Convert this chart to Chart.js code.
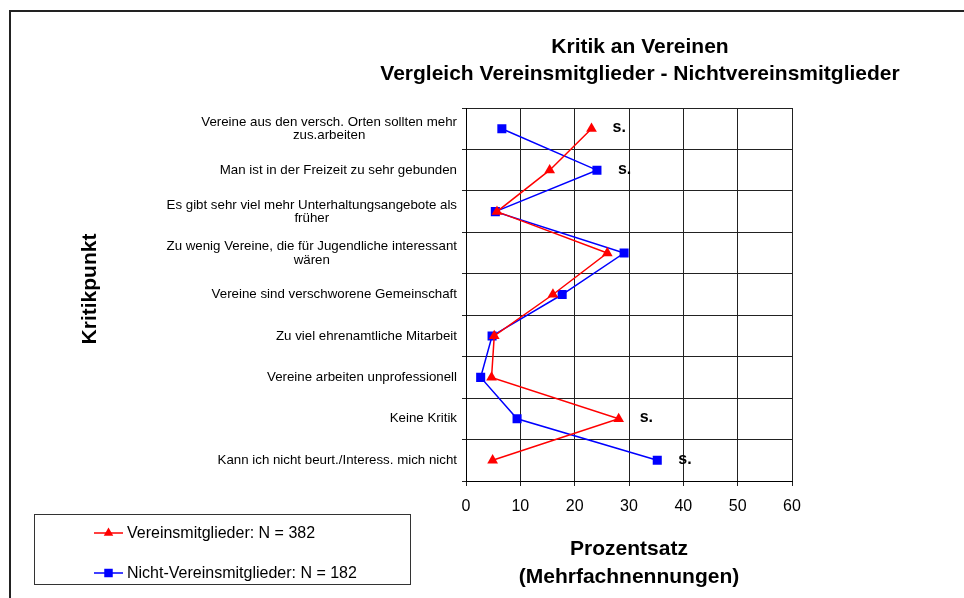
<!DOCTYPE html>
<html>
<head>
<meta charset="utf-8">
<script src="https://cdn.jsdelivr.net/npm/chart.js@4.4.1/dist/chart.umd.min.js"></script>
<style>
  html, body { margin: 0; padding: 0; background: #fff; }
  #wrap { position: relative; width: 964px; height: 598px; }
</style>
</head>
<body>
<div id="wrap"><canvas id="chart"></canvas></div>
<script>
// ---------------------------------------------------------------------------
// Data
// ---------------------------------------------------------------------------
const kritikpunkte = [
  ["Vereine aus den versch. Orten sollten mehr", "zus.arbeiten"],
  ["Man ist in der Freizeit zu sehr gebunden"],
  ["Es gibt sehr viel mehr Unterhaltungsangebote als", "früher"],
  ["Zu wenig Vereine, die für Jugendliche interessant", "wären"],
  ["Vereine sind verschworene Gemeinschaft"],
  ["Zu viel ehrenamtliche Mitarbeit"],
  ["Vereine arbeiten unprofessionell"],
  ["Keine Kritik"],
  ["Kann ich nicht beurt./Interess. mich nicht"]
];
const mitglieder      = [23.1, 15.4, 5.7, 26.0, 16.0, 5.2, 4.7, 28.1, 4.9];
const nichtMitglieder = [6.6, 24.1, 5.4, 29.1, 17.7, 4.8, 2.7, 9.4, 35.2];
const signifikant     = [true, true, false, false, false, false, false, true, true];
const seriesNames = ["Vereinsmitglieder: N = 382", "Nicht-Vereinsmitglieder: N = 182"];

const FONT = "'Liberation Sans', Arial, Helvetica, sans-serif";
const RED = "#ff0000", BLUE = "#0000ff";

// ---------------------------------------------------------------------------
// Extra drawing: titles, category labels, "s." marks, legend, frame
// ---------------------------------------------------------------------------
const decorations = {
  id: "decorations",
  afterDraw(chart) {
    const ctx = chart.ctx;
    const xs = chart.scales.x, ys = chart.scales.y;
    const area = chart.chartArea;
    ctx.save();

    // frame (top + left only, as in the scan)
    ctx.strokeStyle = "#222";
    ctx.lineWidth = 2;
    ctx.beginPath();
    ctx.moveTo(10, 598); ctx.lineTo(10, 11); ctx.lineTo(964, 11);
    ctx.stroke();

    // chart title
    ctx.fillStyle = "#000";
    ctx.textAlign = "center";
    ctx.textBaseline = "middle";
    ctx.font = "bold 21px " + FONT;
    ctx.fillText("Kritik an Vereinen", 640, 47);
    ctx.fillText("Vergleich Vereinsmitglieder - Nichtvereinsmitglieder", 640, 74);

    // axis titles
    const midX = (area.left + area.right) / 2;
    ctx.fillText("Prozentsatz", midX, 549);
    ctx.fillText("(Mehrfachnennungen)", midX, 577);
    ctx.save();
    ctx.translate(90, 289);
    ctx.rotate(-Math.PI / 2);
    ctx.fillText("Kritikpunkt", 0, 0);
    ctx.restore();

    // category labels: block right-aligned, lines centred in the block
    ctx.font = "13.3px " + FONT;
    kritikpunkte.forEach((lines, i) => {
      const cy = ys.getPixelForValue(i);
      const w = Math.max(...lines.map(l => ctx.measureText(l).width));
      const cx = area.left - 9 - w / 2;
      const top = cy - (lines.length - 1) * 6.7;
      lines.forEach((l, j) => ctx.fillText(l, cx, top + j * 13.6));
    });

    // significance marks
    ctx.font = "bold 16px " + FONT;
    ctx.textAlign = "left";
    signifikant.forEach((s, i) => {
      if (!s) return;
      const px = xs.getPixelForValue(Math.max(mitglieder[i], nichtMitglieder[i]));
      ctx.fillText("s.", px + 21, ys.getPixelForValue(i) - 1);
    });

    // legend box
    ctx.strokeStyle = "#333";
    ctx.lineWidth = 1;
    ctx.strokeRect(34.5, 514.5, 376, 70);
    const rows = [
      { y: 533, color: RED, style: "triangle", r: 5.5 },
      { y: 573, color: BLUE, style: "rect", r: 6 }
    ];
    ctx.font = "16px " + FONT;
    rows.forEach((row, k) => {
      ctx.strokeStyle = row.color;
      ctx.lineWidth = 1.5;
      ctx.beginPath();
      ctx.moveTo(94, row.y); ctx.lineTo(123, row.y);
      ctx.stroke();
      ctx.fillStyle = row.color;
      Chart.helpers.drawPoint(ctx, { pointStyle: row.style, radius: row.r, borderWidth: 0 }, 108.5, row.y);
      ctx.fillStyle = "#000";
      ctx.fillText(seriesNames[k], 127, row.y + 1);
    });

    ctx.restore();
  }
};

// ---------------------------------------------------------------------------
// Chart
// ---------------------------------------------------------------------------
new Chart(document.getElementById("chart"), {
  type: "line",
  data: {
    labels: kritikpunkte,
    datasets: [
      {
        label: seriesNames[0],
        data: mitglieder,
        borderColor: RED,
        backgroundColor: RED,
        borderWidth: 1.5,
        pointStyle: "triangle",
        pointRadius: 6.2,
        pointBorderWidth: 0,
        tension: 0
      },
      {
        label: seriesNames[1],
        data: nichtMitglieder,
        borderColor: BLUE,
        backgroundColor: BLUE,
        borderWidth: 1.5,
        pointStyle: "rect",
        pointRadius: 6.4,
        pointBorderWidth: 0,
        tension: 0
      }
    ]
  },
  options: {
    indexAxis: "y",
    responsive: true,
    maintainAspectRatio: false,
    animation: false,
    layout: { padding: { left: 456, right: 172, top: 108, bottom: 77 } },
    plugins: { legend: { display: false }, tooltip: { enabled: false }, title: { display: false } },
    scales: {
      x: {
        type: "linear",
        min: 0,
        max: 60,
        ticks: { stepSize: 10, color: "#000", font: { family: FONT, size: 16 }, padding: 11 },
        grid: { color: "#222", lineWidth: 1, tickLength: 5, drawTicks: true },
        border: { color: "#000", width: 1 },
        afterFit: s => { s.height = 40; }
      },
      y: {
        type: "category",
        offset: true,
        ticks: { display: false },
        grid: { offset: true, color: "#222", lineWidth: 1, tickLength: 4 },
        border: { color: "#000", width: 1 },
        afterFit: s => { s.width = 10; }
      }
    }
  },
  plugins: [decorations]
});
</script>
</body>
</html>
